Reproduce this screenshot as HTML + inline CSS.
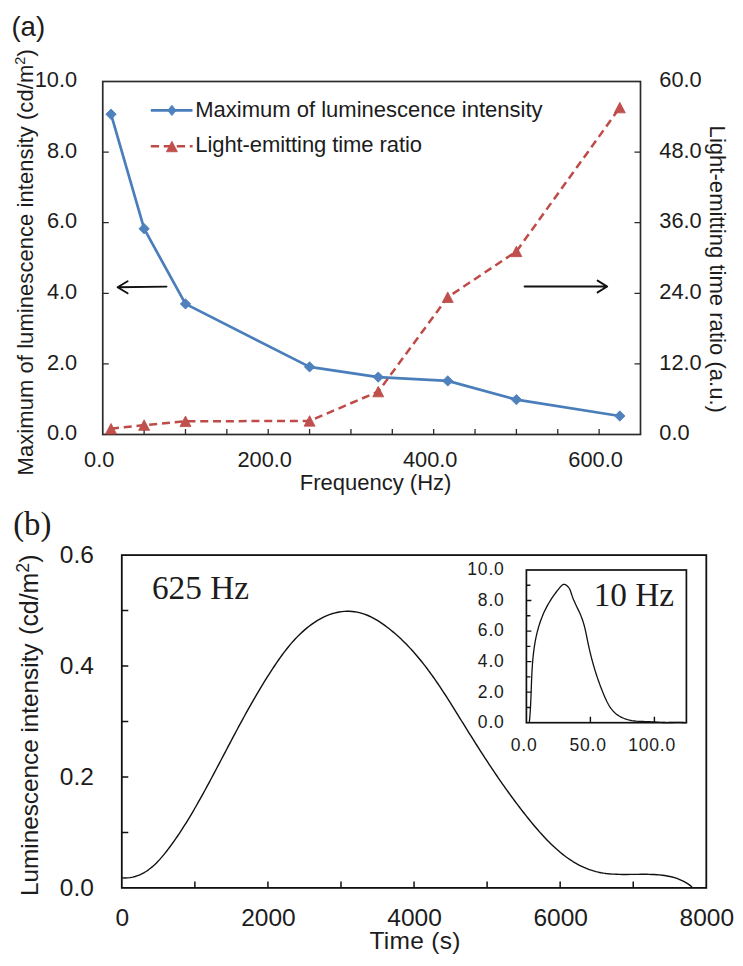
<!DOCTYPE html>
<html><head><meta charset="utf-8"><title>Figure</title>
<style>
html,body{margin:0;padding:0;background:#fff;}
svg{display:block;}
.s{font-family:"Liberation Sans",sans-serif;}
.t{font-family:"Liberation Serif",serif;}
</style></head><body>
<svg width="743" height="966" viewBox="0 0 743 966">
<rect width="743" height="966" fill="#fff"/>
<text x="11.40" y="35.60" font-size="27.6" class="s" fill="#1c1c1c">(a)</text>
<rect x="102.75" y="81.5" width="537.75" height="353.0" fill="none" stroke="#2b2b2b" stroke-width="1.7"/>
<path d="M102.75 363.90h6M640.5 363.90h-6M102.75 293.30h6M640.5 293.30h-6M102.75 222.70h6M640.5 222.70h-6M102.75 152.10h6M640.5 152.10h-6M144.12 434.5v-5.5M185.48 434.5v-5.5M226.85 434.5v-5.5M268.21 434.5v-5.5M309.58 434.5v-5.5M350.94 434.5v-5.5M392.31 434.5v-5.5M433.67 434.5v-5.5M475.04 434.5v-5.5M516.40 434.5v-5.5M557.77 434.5v-5.5M599.13 434.5v-5.5" stroke="#2b2b2b" stroke-width="1.3" fill="none"/>
<text x="77.20" y="440.20" font-size="21.8" class="s" fill="#1c1c1c" text-anchor="end">0.0</text>
<text x="659.30" y="440.20" font-size="21.8" class="s" fill="#1c1c1c">0.0</text>
<text x="77.20" y="369.60" font-size="21.8" class="s" fill="#1c1c1c" text-anchor="end">2.0</text>
<text x="659.30" y="369.60" font-size="21.8" class="s" fill="#1c1c1c">12.0</text>
<text x="77.20" y="299.00" font-size="21.8" class="s" fill="#1c1c1c" text-anchor="end">4.0</text>
<text x="659.30" y="299.00" font-size="21.8" class="s" fill="#1c1c1c">24.0</text>
<text x="77.20" y="228.40" font-size="21.8" class="s" fill="#1c1c1c" text-anchor="end">6.0</text>
<text x="659.30" y="228.40" font-size="21.8" class="s" fill="#1c1c1c">36.0</text>
<text x="77.20" y="157.80" font-size="21.8" class="s" fill="#1c1c1c" text-anchor="end">8.0</text>
<text x="659.30" y="157.80" font-size="21.8" class="s" fill="#1c1c1c">48.0</text>
<text x="77.20" y="87.20" font-size="21.8" class="s" fill="#1c1c1c" text-anchor="end">10.0</text>
<text x="659.30" y="87.20" font-size="21.8" class="s" fill="#1c1c1c">60.0</text>
<text x="99.25" y="467.00" font-size="21.8" class="s" fill="#1c1c1c" text-anchor="middle">0.0</text>
<text x="264.71" y="467.00" font-size="21.8" class="s" fill="#1c1c1c" text-anchor="middle">200.0</text>
<text x="430.17" y="467.00" font-size="21.8" class="s" fill="#1c1c1c" text-anchor="middle">400.0</text>
<text x="595.63" y="467.00" font-size="21.8" class="s" fill="#1c1c1c" text-anchor="middle">600.0</text>
<text x="299.80" y="490.00" font-size="22" class="s" fill="#1c1c1c">Frequency (Hz)</text>
<text x="32.90" y="475.40" font-size="22" class="s" fill="#1c1c1c" transform="rotate(-90 32.90 475.40)" letter-spacing="0.06">Maximum of luminescence intensity (cd/m<tspan dy="-7.5" font-size="14.5">2</tspan><tspan dy="7.5">)</tspan></text>
<text x="710.00" y="125.60" font-size="22" class="s" fill="#1c1c1c" transform="rotate(90 710.00 125.60)" letter-spacing="0.04">Light-emitting time ratio (a.u.)</text>
<path d="M117.6 287.2L166.5 286.6M127.6 281.2L117.6 287.2L127.6 293.2" stroke="#111" stroke-width="1.9" fill="none" stroke-linejoin="round" stroke-linecap="round"/>
<path d="M524.6 286.5L607.2 286.5M597.6 280.6L607.2 286.5L597.6 292.4" stroke="#111" stroke-width="1.9" fill="none" stroke-linejoin="round" stroke-linecap="round"/>
<polyline points="111.02,114.20 144.12,228.70 185.48,303.90 309.58,366.90 378.24,377.10 447.74,380.90 516.40,399.60 619.82,416.00" fill="none" stroke="#4a7ebb" stroke-width="2.7" stroke-linejoin="round"/>
<path d="M111.02 109.00L116.22 114.20L111.02 119.40L105.82 114.20ZM144.12 223.50L149.32 228.70L144.12 233.90L138.92 228.70ZM185.48 298.70L190.68 303.90L185.48 309.10L180.28 303.90ZM309.58 361.70L314.78 366.90L309.58 372.10L304.38 366.90ZM378.24 371.90L383.44 377.10L378.24 382.30L373.04 377.10ZM447.74 375.70L452.94 380.90L447.74 386.10L442.54 380.90ZM516.40 394.40L521.60 399.60L516.40 404.80L511.20 399.60ZM619.82 410.80L625.02 416.00L619.82 421.20L614.62 416.00Z" fill="#4f81bd" stroke="#4a7ebb" stroke-width="0.8"/>
<polyline points="111.02,428.70 144.12,425.10 185.48,421.30 309.58,420.90 378.24,391.60 447.74,297.20 516.40,251.40 619.82,107.60" fill="none" stroke="#be4b48" stroke-width="2.5" stroke-dasharray="8 4.8" stroke-linejoin="round"/>
<path d="M111.02 423.45L116.52 433.95L105.52 433.95ZM144.12 419.85L149.62 430.35L138.62 430.35ZM185.48 416.05L190.98 426.55L179.98 426.55ZM309.58 415.65L315.08 426.15L304.08 426.15ZM378.24 386.35L383.74 396.85L372.74 396.85ZM447.74 291.95L453.24 302.45L442.24 302.45ZM516.40 246.15L521.90 256.65L510.90 256.65ZM619.82 102.35L625.32 112.85L614.32 112.85Z" fill="#c0504d" stroke="#be4b48" stroke-width="0.8"/>
<path d="M150.8 110.4H192.5" stroke="#4a7ebb" stroke-width="2.6"/>
<path d="M171.9 105.2L176.1 110.4L171.9 115.6L167.7 110.4Z" fill="#4f81bd" stroke="#4a7ebb" stroke-width="0.8"/>
<path d="M150.8 146.2H192.6" stroke="#be4b48" stroke-width="2.4" stroke-dasharray="8.3 4.7"/>
<path d="M171.90 141.25L177.40 151.75L166.40 151.75Z" fill="#c0504d" stroke="#be4b48" stroke-width="0.8"/>
<text x="195.30" y="116.70" font-size="22" class="s" fill="#1c1c1c">Maximum of luminescence intensity</text>
<text x="195.30" y="152.00" font-size="22" class="s" fill="#1c1c1c" letter-spacing="-0.08">Light-emitting time ratio</text>
<text x="13.20" y="534.50" font-size="32.8" class="t" fill="#1c1c1c">(b)</text>
<rect x="121.8" y="555.1" width="584.5" height="332.79999999999995" fill="none" stroke="#111" stroke-width="1.8"/>
<path d="M121.8 832.43h6.5M121.8 776.97h6.5M121.8 721.50h6.5M121.8 666.03h6.5M121.8 610.57h6.5M194.86 887.9v-6.5M267.93 887.9v-6.5M340.99 887.9v-6.5M414.05 887.9v-6.5M487.11 887.9v-6.5M560.17 887.9v-6.5M633.24 887.9v-6.5" stroke="#111" stroke-width="1.5" fill="none"/>
<text x="93.90" y="896.20" font-size="24.5" class="s" fill="#1c1c1c" text-anchor="end">0.0</text>
<text x="93.90" y="785.27" font-size="24.5" class="s" fill="#1c1c1c" text-anchor="end">0.2</text>
<text x="93.90" y="674.33" font-size="24.5" class="s" fill="#1c1c1c" text-anchor="end">0.4</text>
<text x="93.90" y="563.40" font-size="24.5" class="s" fill="#1c1c1c" text-anchor="end">0.6</text>
<text x="122.30" y="926.00" font-size="24.5" class="s" fill="#1c1c1c" text-anchor="middle">0</text>
<text x="268.43" y="926.00" font-size="24.5" class="s" fill="#1c1c1c" text-anchor="middle">2000</text>
<text x="414.55" y="926.00" font-size="24.5" class="s" fill="#1c1c1c" text-anchor="middle">4000</text>
<text x="560.67" y="926.00" font-size="24.5" class="s" fill="#1c1c1c" text-anchor="middle">6000</text>
<text x="706.80" y="926.00" font-size="24.5" class="s" fill="#1c1c1c" text-anchor="middle">8000</text>
<text x="369.40" y="949.40" font-size="24.5" class="s" fill="#1c1c1c" letter-spacing="0.3">Time (s)</text>
<text x="37.70" y="896.00" font-size="24.3" class="s" fill="#1c1c1c" transform="rotate(-90 37.70 896.00)">Luminescence intensity</text>
<text x="37.70" y="634.90" font-size="24.9" class="s" fill="#1c1c1c" transform="rotate(-90 37.70 634.90)">(cd/m<tspan dy="-9" font-size="17.8">2</tspan><tspan dy="9">)</tspan></text>
<text x="151.90" y="599.40" font-size="33.3" class="t" fill="#1c1c1c">625 Hz</text>
<path d="M122.14 877.92 L124.92 877.99 L127.60 877.87 L130.21 877.58 L132.74 877.11 L135.19 876.48 L137.57 875.70 L139.88 874.78 L142.13 873.72 L144.31 872.53 L146.42 871.22 L148.49 869.80 L150.49 868.27 L152.45 866.65 L154.35 864.94 L156.21 863.16 L158.02 861.30 L159.80 859.38 L161.54 857.41 L163.24 855.39 L164.91 853.33 L166.55 851.25 L168.17 849.14 L169.77 847.02 L171.34 844.88 L172.89 842.74 L174.42 840.59 L175.94 838.42 L177.43 836.25 L178.91 834.06 L180.36 831.87 L181.81 829.67 L183.23 827.46 L184.64 825.24 L186.03 823.01 L187.42 820.78 L188.78 818.54 L190.14 816.29 L191.48 814.04 L192.81 811.78 L194.13 809.52 L195.44 807.25 L196.74 804.98 L198.03 802.70 L199.32 800.42 L200.60 798.14 L201.87 795.85 L203.13 793.56 L204.39 791.26 L205.64 788.97 L206.89 786.67 L208.14 784.37 L209.38 782.07 L210.61 779.77 L211.84 777.46 L213.07 775.16 L214.30 772.85 L215.52 770.54 L216.74 768.23 L217.96 765.92 L219.18 763.61 L220.39 761.30 L221.61 758.99 L222.82 756.68 L224.03 754.37 L225.25 752.06 L226.46 749.75 L227.67 747.44 L228.89 745.13 L230.10 742.82 L231.32 740.51 L232.54 738.20 L233.76 735.90 L234.98 733.60 L236.21 731.29 L237.44 729.00 L238.67 726.70 L239.91 724.40 L241.15 722.11 L242.39 719.82 L243.64 717.53 L244.90 715.24 L246.16 712.96 L247.43 710.68 L248.70 708.41 L249.98 706.13 L251.26 703.87 L252.55 701.60 L253.85 699.34 L255.16 697.08 L256.47 694.83 L257.80 692.58 L259.13 690.34 L260.47 688.10 L261.82 685.87 L263.18 683.64 L264.55 681.41 L265.93 679.20 L267.32 676.98 L268.72 674.78 L270.13 672.57 L271.55 670.38 L272.99 668.19 L274.43 666.01 L275.90 663.83 L277.37 661.67 L278.87 659.52 L280.38 657.38 L281.91 655.25 L283.47 653.14 L285.05 651.05 L286.66 648.98 L288.30 646.94 L289.97 644.92 L291.67 642.92 L293.41 640.96 L295.18 639.02 L296.99 637.12 L298.85 635.25 L300.74 633.41 L302.68 631.62 L304.67 629.86 L306.70 628.14 L308.79 626.48 L310.91 624.86 L313.09 623.31 L315.30 621.82 L317.55 620.40 L319.84 619.07 L322.17 617.81 L324.53 616.65 L326.92 615.59 L329.34 614.64 L331.79 613.79 L334.26 613.06 L336.76 612.46 L339.28 611.97 L341.81 611.62 L344.35 611.38 L346.89 611.28 L349.42 611.30 L351.95 611.44 L354.47 611.72 L356.97 612.12 L359.45 612.65 L361.90 613.31 L364.31 614.09 L366.70 614.99 L369.06 616.00 L371.39 617.11 L373.69 618.30 L375.96 619.58 L378.20 620.94 L380.41 622.36 L382.58 623.84 L384.73 625.38 L386.85 626.95 L388.94 628.57 L391.00 630.21 L393.02 631.88 L395.02 633.58 L397.00 635.31 L398.94 637.06 L400.86 638.85 L402.75 640.66 L404.61 642.49 L406.45 644.35 L408.27 646.23 L410.06 648.13 L411.83 650.06 L413.58 652.01 L415.31 653.98 L417.01 655.96 L418.70 657.97 L420.36 659.99 L422.01 662.04 L423.64 664.10 L425.24 666.17 L426.84 668.26 L428.41 670.37 L429.97 672.48 L431.52 674.62 L433.05 676.76 L434.57 678.91 L436.07 681.08 L437.56 683.25 L439.04 685.44 L440.51 687.63 L441.97 689.83 L443.42 692.04 L444.86 694.25 L446.29 696.47 L447.71 698.69 L449.12 700.92 L450.53 703.15 L451.93 705.38 L453.33 707.61 L454.72 709.85 L456.11 712.08 L457.50 714.31 L458.88 716.54 L460.26 718.77 L461.63 721.00 L463.01 723.22 L464.39 725.44 L465.77 727.66 L467.14 729.87 L468.52 732.08 L469.90 734.28 L471.28 736.48 L472.66 738.68 L474.04 740.87 L475.42 743.06 L476.81 745.25 L478.20 747.43 L479.59 749.61 L480.99 751.78 L482.39 753.96 L483.79 756.13 L485.20 758.29 L486.61 760.45 L488.03 762.61 L489.45 764.77 L490.88 766.92 L492.31 769.07 L493.75 771.22 L495.20 773.36 L496.65 775.50 L498.11 777.64 L499.58 779.78 L501.06 781.91 L502.54 784.04 L504.04 786.16 L505.54 788.28 L507.05 790.40 L508.57 792.52 L510.10 794.63 L511.64 796.75 L513.20 798.85 L514.76 800.96 L516.33 803.06 L517.91 805.16 L519.51 807.26 L521.12 809.36 L522.74 811.45 L524.37 813.54 L526.02 815.63 L527.68 817.71 L529.35 819.79 L531.04 821.87 L532.75 823.94 L534.46 826.00 L536.20 828.05 L537.95 830.08 L539.72 832.10 L541.50 834.09 L543.31 836.07 L545.13 838.02 L546.97 839.95 L548.83 841.84 L550.72 843.71 L552.62 845.54 L554.55 847.34 L556.49 849.10 L558.46 850.82 L560.46 852.50 L562.48 854.13 L564.52 855.71 L566.58 857.25 L568.68 858.73 L570.80 860.16 L572.94 861.53 L575.12 862.84 L577.32 864.09 L579.55 865.28 L581.80 866.40 L584.09 867.45 L586.41 868.43 L588.76 869.34 L591.14 870.17 L593.55 870.93 L596.00 871.60 L598.47 872.19 L600.99 872.70 L603.53 873.13 L606.10 873.48 L608.69 873.77 L611.31 874.00 L613.96 874.17 L616.62 874.30 L619.29 874.38 L621.98 874.43 L624.68 874.45 L627.38 874.44 L630.10 874.42 L632.81 874.39 L635.53 874.36 L638.24 874.33 L640.95 874.30 L643.65 874.30 L646.33 874.31 L649.01 874.35 L651.67 874.43 L654.32 874.54 L656.94 874.70 L659.54 874.92 L662.11 875.19 L664.66 875.53 L667.17 875.95 L669.65 876.44 L672.10 877.01 L674.50 877.67 L676.87 878.44 L679.19 879.30 L681.47 880.28 L683.69 881.37 L685.86 882.58 L687.98 883.92 L690.05 885.40 L692.05 887.02" fill="none" stroke="#111" stroke-width="1.4" stroke-linejoin="round"/>
<rect x="526.4" y="570.0" width="160.0" height="152.70000000000005" fill="#fff" stroke="#111" stroke-width="1.7"/>
<path d="M526.4 707.43h4M526.4 692.16h5M526.4 676.89h4M526.4 661.62h5M526.4 646.35h4M526.4 631.08h5M526.4 615.81h4M526.4 600.54h5M526.4 585.27h4M590.40 722.7v-6M654.40 722.7v-6" stroke="#111" stroke-width="1.4" fill="none"/>
<text x="504.60" y="728.10" font-size="17.5" class="s" fill="#1c1c1c" text-anchor="end" letter-spacing="0.8">0.0</text>
<text x="504.60" y="697.56" font-size="17.5" class="s" fill="#1c1c1c" text-anchor="end" letter-spacing="0.8">2.0</text>
<text x="504.60" y="667.02" font-size="17.5" class="s" fill="#1c1c1c" text-anchor="end" letter-spacing="0.8">4.0</text>
<text x="504.60" y="636.48" font-size="17.5" class="s" fill="#1c1c1c" text-anchor="end" letter-spacing="0.8">6.0</text>
<text x="504.60" y="605.94" font-size="17.5" class="s" fill="#1c1c1c" text-anchor="end" letter-spacing="0.8">8.0</text>
<text x="504.60" y="575.40" font-size="17.5" class="s" fill="#1c1c1c" text-anchor="end" letter-spacing="0.8">10.0</text>
<text x="524.10" y="751.30" font-size="17.5" class="s" fill="#1c1c1c" text-anchor="middle" letter-spacing="0.8">0.0</text>
<text x="588.10" y="751.30" font-size="17.5" class="s" fill="#1c1c1c" text-anchor="middle" letter-spacing="0.8">50.0</text>
<text x="652.10" y="751.30" font-size="17.5" class="s" fill="#1c1c1c" text-anchor="middle" letter-spacing="0.8">100.0</text>
<text x="593.70" y="606.20" font-size="33.3" class="t" fill="#1c1c1c">10 Hz</text>
<path d="M529.28 722.77 L529.44 721.16 L529.60 719.55 L529.74 717.94 L529.88 716.32 L530.00 714.70 L530.12 713.08 L530.23 711.45 L530.34 709.82 L530.43 708.19 L530.52 706.55 L530.61 704.91 L530.69 703.27 L530.76 701.63 L530.83 699.98 L530.90 698.33 L530.97 696.68 L531.03 695.03 L531.09 693.38 L531.15 691.72 L531.21 690.07 L531.27 688.41 L531.33 686.75 L531.39 685.09 L531.45 683.43 L531.51 681.77 L531.58 680.12 L531.65 678.46 L531.72 676.80 L531.80 675.14 L531.88 673.48 L531.97 671.82 L532.06 670.17 L532.16 668.51 L532.27 666.86 L532.38 665.20 L532.50 663.55 L532.63 661.90 L532.77 660.26 L532.92 658.61 L533.08 656.97 L533.25 655.33 L533.43 653.69 L533.63 652.05 L533.83 650.42 L534.05 648.79 L534.28 647.17 L534.53 645.55 L534.79 643.93 L535.07 642.31 L535.36 640.70 L535.67 639.10 L535.99 637.49 L536.33 635.90 L536.69 634.30 L537.07 632.72 L537.47 631.13 L537.89 629.56 L538.32 627.98 L538.78 626.42 L539.26 624.86 L539.76 623.30 L540.28 621.75 L540.83 620.21 L541.39 618.67 L541.99 617.14 L542.60 615.62 L543.25 614.11 L543.91 612.60 L544.61 611.10 L545.33 609.60 L546.07 608.12 L546.85 606.64 L547.65 605.17 L548.48 603.71 L549.34 602.25 L550.22 600.82 L551.12 599.39 L552.04 597.98 L552.98 596.58 L553.94 595.20 L554.92 593.84 L555.91 592.51 L556.91 591.19 L557.92 589.89 L558.95 588.62 L559.97 587.38 L561.01 586.17 L562.08 585.12 L563.25 584.47 L564.55 584.44 L565.92 584.97 L567.26 585.94 L568.49 587.25 L569.50 588.76 L570.27 590.39 L570.87 592.07 L571.40 593.73 L571.93 595.35 L572.48 596.90 L573.06 598.41 L573.66 599.89 L574.29 601.35 L574.93 602.79 L575.60 604.24 L576.29 605.70 L576.99 607.16 L577.69 608.63 L578.40 610.11 L579.09 611.60 L579.78 613.10 L580.44 614.61 L581.08 616.13 L581.68 617.66 L582.25 619.21 L582.78 620.77 L583.28 622.34 L583.75 623.92 L584.19 625.51 L584.61 627.11 L585.00 628.71 L585.38 630.32 L585.74 631.93 L586.09 633.55 L586.43 635.17 L586.76 636.79 L587.09 638.42 L587.42 640.04 L587.74 641.66 L588.08 643.28 L588.42 644.89 L588.77 646.51 L589.13 648.11 L589.49 649.72 L589.87 651.32 L590.25 652.92 L590.64 654.52 L591.04 656.11 L591.44 657.70 L591.86 659.29 L592.28 660.87 L592.71 662.45 L593.16 664.03 L593.61 665.61 L594.07 667.19 L594.54 668.76 L595.02 670.33 L595.50 671.90 L596.00 673.46 L596.51 675.03 L597.02 676.59 L597.55 678.15 L598.09 679.71 L598.63 681.27 L599.19 682.82 L599.76 684.38 L600.33 685.93 L600.92 687.48 L601.52 689.03 L602.13 690.58 L602.75 692.13 L603.38 693.68 L604.02 695.22 L604.67 696.76 L605.34 698.30 L606.04 699.82 L606.76 701.32 L607.52 702.80 L608.31 704.25 L609.14 705.66 L610.01 707.04 L610.94 708.37 L611.92 709.65 L612.96 710.88 L614.07 712.05 L615.24 713.15 L616.49 714.18 L617.81 715.14 L619.19 716.03 L620.63 716.85 L622.12 717.59 L623.66 718.26 L625.22 718.86 L626.82 719.39 L628.43 719.85 L630.05 720.24 L631.68 720.56 L633.31 720.81 L634.94 721.01 L636.58 721.17 L638.22 721.29 L639.86 721.38 L641.51 721.44 L643.15 721.49 L644.80 721.53 L646.45 721.58 L648.09 721.63 L649.74 721.70 L651.39 721.79 L653.03 721.90 L654.68 722.02 L656.33 722.14 L657.97 722.26 L659.62 722.35 L661.27 722.43 L662.92 722.48 L664.57 722.51 L666.21 722.53 L667.86 722.53 L669.51 722.52 L671.16 722.50 L672.81 722.48 L674.46 722.46 L676.11 722.44 L677.76 722.43 L679.41 722.43 L681.06 722.45 L682.70 722.48 L684.35 722.53 L686.00 722.60" fill="none" stroke="#111" stroke-width="1.3" stroke-linejoin="round"/>
</svg>
</body></html>
